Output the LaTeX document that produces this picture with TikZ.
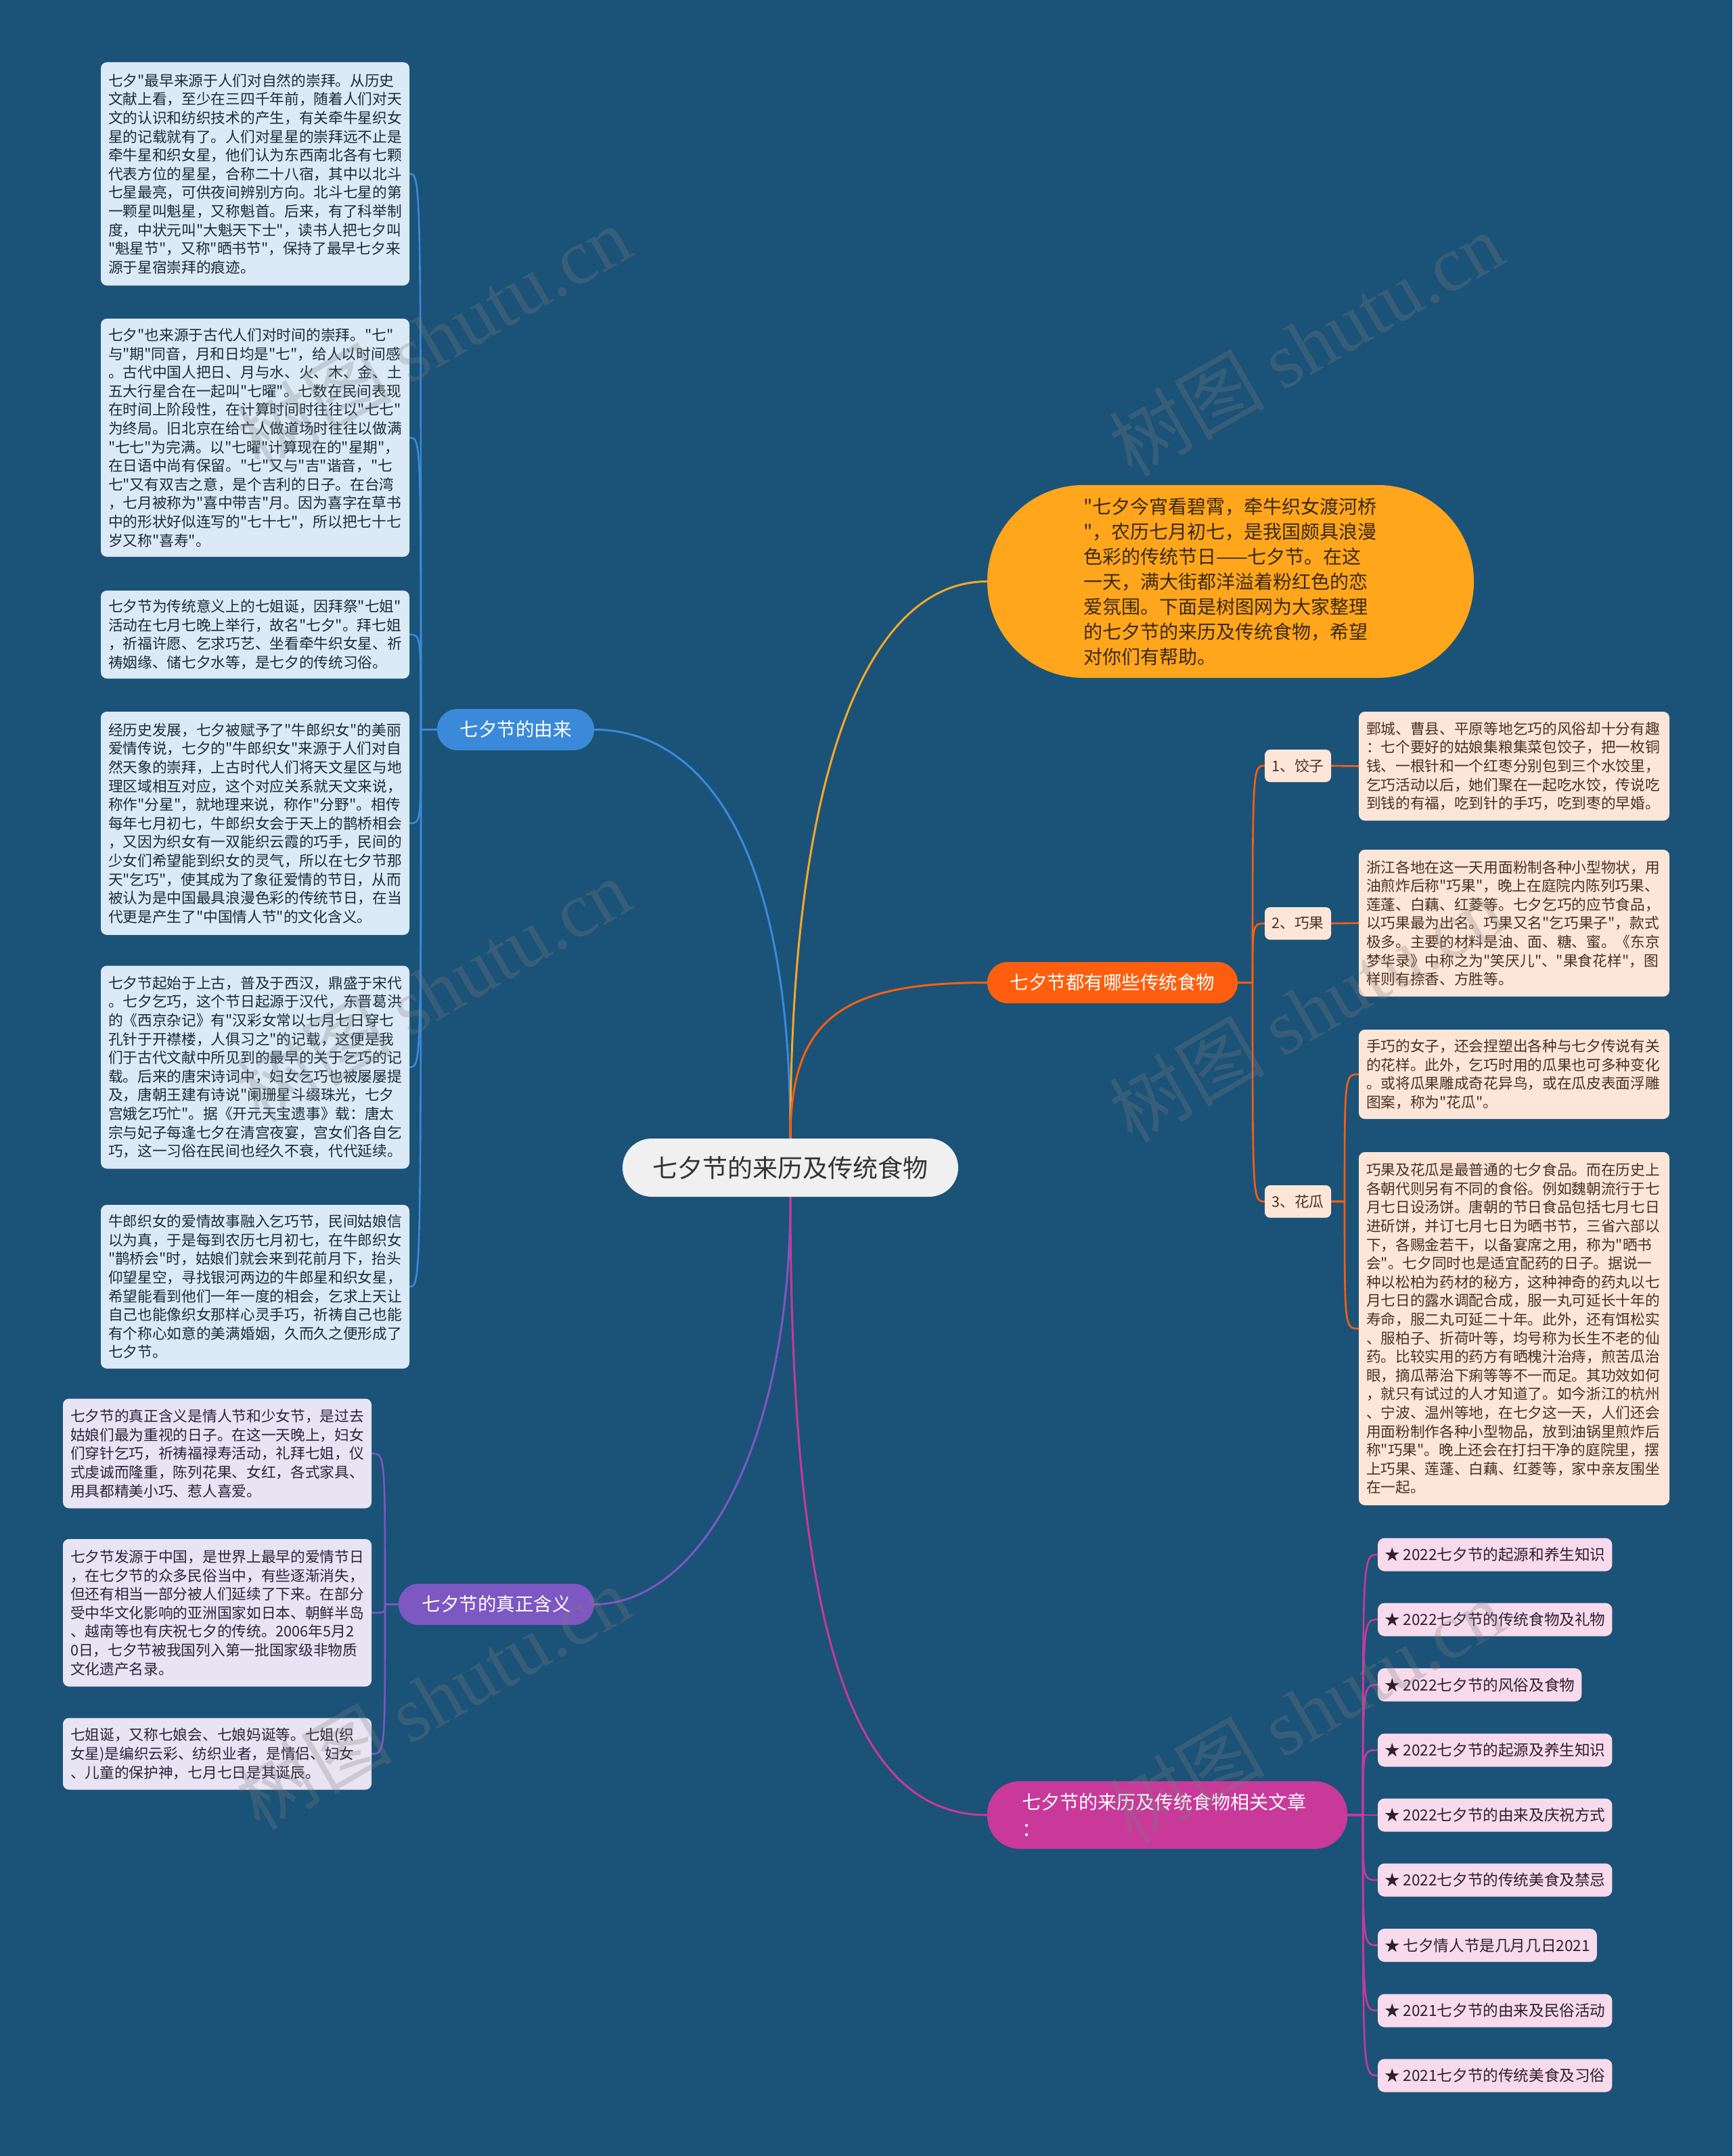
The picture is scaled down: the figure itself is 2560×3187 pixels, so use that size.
\documentclass[tikz,border=0pt]{standalone}
\usepackage{fontspec}
\setmainfont{Noto Sans CJK SC}
\newfontfamily\cjkfont{Noto Sans CJK SC}
\newfontfamily\wmserif{Liberation Serif}
\usetikzlibrary{calc,backgrounds}
\definecolor{bg}{HTML}{1B5277}
\definecolor{rootfill}{HTML}{F0F0F0}
\definecolor{roottext}{HTML}{333333}
\definecolor{cblue}{HTML}{3B8AD9}
\definecolor{cyellow}{HTML}{F5A82A}
\definecolor{bubble}{HTML}{FFA61C}
\definecolor{corange}{HTML}{FF5E0E}
\definecolor{cpurple}{HTML}{7D57C2}
\definecolor{cmagenta}{HTML}{C8399A}
\definecolor{lboxfill}{HTML}{DCEAF7}
\definecolor{pboxfill}{HTML}{E8E4F4}
\definecolor{rboxfill}{HTML}{FDE6D8}
\definecolor{artfill}{HTML}{F7DAEC}
\definecolor{ltext}{HTML}{1E2A36}
\definecolor{ptext}{HTML}{2A2438}
\definecolor{rtext}{HTML}{4B3020}
\definecolor{atext}{HTML}{2E1F2B}
\definecolor{btext}{HTML}{3B2A10}
\begin{document}
\begin{tikzpicture}[x=1pt,y=-1pt,
  every node/.style={inner sep=0pt, outer sep=0pt},
  detail/.style={anchor=west, rounded corners=9pt, align=left, inner xsep=11pt, inner ysep=0pt, font=\cjkfont\fontsize{21.7}{27.6}\selectfont},
  lbox/.style={detail, fill=lboxfill, text=ltext, text width=434pt},
  pbox/.style={detail, fill=pboxfill, text=ptext, text width=434pt},
  rbox/.style={detail, fill=rboxfill, text=rtext, text width=437pt},
  numbox/.style={fill=rboxfill, text=rtext, rounded corners=8pt, minimum width=98pt, minimum height=48pt, font=\cjkfont\fontsize{21.7}{26}\selectfont},
  artbox/.style={anchor=west, fill=artfill, text=atext, rounded corners=10pt, inner xsep=10pt, minimum height=49pt, font=\cjkfont\fontsize{22.6}{28}\selectfont},
  title/.style={rounded corners=30pt, minimum height=61pt, text=white, font=\cjkfont\fontsize{27.5}{33}\selectfont},
  mainline/.style={line width=3pt},
  subline/.style={line width=2.6pt},
  wm/.style={rotate=30, text=gray, text opacity=0.28, font=\cjkfont\fontsize{115}{120}\selectfont}
]
\useasboundingbox (0,0) rectangle (2560,3187);

% ---------- central and main nodes ----------
\node[fill=rootfill, text=roottext, rounded corners=43pt, minimum width=496pt, minimum height=86pt, font=\cjkfont\fontsize{37}{44}\selectfont] (root) at (1168,1726) {七夕节的来历及传统食物};

\node[fill=bubble, text=btext, rounded corners=142pt, minimum width=719pt, minimum height=285pt, align=left, text width=435pt, font=\cjkfont\fontsize{28}{37}\selectfont] (intro) at (1818.5,859.5) {"七夕今宵看碧霄，牵牛织女渡河桥\\"，农历七月初七，是我国颇具浪漫\\色彩的传统节日——七夕节。在这\\一天，满大街都洋溢着粉红色的恋\\爱氛围。下面是树图网为大家整理\\的七夕节的来历及传统食物，希望\\对你们有帮助。};

\node[title, fill=cblue, minimum width=232pt] (yl) at (762,1078.5) {七夕节的由来};
\node[title, fill=corange, minimum width=370pt] (food) at (1644,1452.5) {七夕节都有哪些传统食物};
\node[title, fill=cpurple, minimum width=289pt] (pur) at (733.5,2371.5) {七夕节的真正含义};
\node[fill=cmagenta, text=white, rounded corners=48pt, minimum width=532pt, minimum height=100pt, align=left, text width=430pt, font=\cjkfont\fontsize{28}{40}\selectfont] (mag) at (1725,2683) {七夕节的来历及传统食物相关文章\\：};

% ---------- left detail boxes ----------
\node[lbox, minimum height=330pt] (L1) at (149,257) {七夕"最早来源于人们对自然的崇拜。从历史\\文献上看，至少在三四千年前，随着人们对天\\文的认识和纺织技术的产生，有关牵牛星织女\\星的记载就有了。人们对星星的崇拜远不止是\\牵牛星和织女星，他们认为东西南北各有七颗\\代表方位的星星，合称二十八宿，其中以北斗\\七星最亮，可供夜间辨别方向。北斗七星的第\\一颗星叫魁星，又称魁首。后来，有了科举制\\度，中状元叫"大魁天下士"，读书人把七夕叫\\"魁星节"，又称"晒书节"，保持了最早七夕来\\源于星宿崇拜的痕迹。};
\node[lbox, minimum height=352pt] (L2) at (149,647) {七夕"也来源于古代人们对时间的崇拜。"七"\\与"期"同音，月和日均是"七"，给人以时间感\\。古代中国人把日、月与水、火、木、金、土\\五大行星合在一起叫"七曜"。七数在民间表现\\在时间上阶段性，在计算时间时往往以"七七"\\为终局。旧北京在给亡人做道场时往往以做满\\"七七"为完满。以"七曜"计算现在的"星期"，\\在日语中尚有保留。"七"又与"吉"谐音，"七\\七"又有双吉之意，是个吉利的日子。在台湾\\，七月被称为"喜中带吉"月。因为喜字在草书\\中的形状好似连写的"七十七"，所以把七十七\\岁又称"喜寿"。};
\node[lbox, minimum height=130pt] (L3) at (149,938) {七夕节为传统意义上的七姐诞，因拜祭"七姐"\\活动在七月七晚上举行，故名"七夕"。拜七姐\\，祈福许愿、乞求巧艺、坐看牵牛织女星、祈\\祷姻缘、储七夕水等，是七夕的传统习俗。};
\node[lbox, minimum height=330pt] (L4) at (149,1217) {经历史发展，七夕被赋予了"牛郎织女"的美丽\\爱情传说，七夕的"牛郎织女"来源于人们对自\\然天象的崇拜，上古时代人们将天文星区与地\\理区域相互对应，这个对应关系就天文来说，\\称作"分星"，就地理来说，称作"分野"。相传\\每年七月初七，牛郎织女会于天上的鹊桥相会\\，又因为织女有一双能织云霞的巧手，民间的\\少女们希望能到织女的灵气，所以在七夕节那\\天"乞巧"，使其成为了象征爱情的节日，从而\\被认为是中国最具浪漫色彩的传统节日，在当\\代更是产生了"中国情人节"的文化含义。};
\node[lbox, minimum height=300pt] (L5) at (149,1577.5) {七夕节起始于上古，普及于西汉，鼎盛于宋代\\。七夕乞巧，这个节日起源于汉代，东晋葛洪\\的《西京杂记》有"汉彩女常以七月七日穿七\\孔针于开襟楼，人俱习之"的记载，这便是我\\们于古代文献中所见到的最早的关于乞巧的记\\载。后来的唐宋诗词中，妇女乞巧也被屡屡提\\及，唐朝王建有诗说"阑珊星斗缀珠光，七夕\\宫娥乞巧忙"。据《开元天宝遗事》载：唐太\\宗与妃子每逢七夕在清宫夜宴，宫女们各自乞\\巧，这一习俗在民间也经久不衰，代代延续。};
\node[lbox, minimum height=242pt] (L6) at (149,1902) {牛郎织女的爱情故事融入乞巧节，民间姑娘信\\以为真，于是每到农历七月初七，在牛郎织女\\"鹊桥会"时，姑娘们就会来到花前月下，抬头\\仰望星空，寻找银河两边的牛郎星和织女星，\\希望能看到他们一年一度的相会，乞求上天让\\自己也能像织女那样心灵手巧，祈祷自己也能\\有个称心如意的美满婚姻，久而久之便形成了\\七夕节。};

% ---------- bottom-left boxes ----------
\node[pbox, minimum height=162pt] (B1) at (93,2148.5) {七夕节的真正含义是情人节和少女节，是过去\\姑娘们最为重视的日子。在这一天晚上，妇女\\们穿针乞巧，祈祷福禄寿活动，礼拜七姐，仪\\式虔诚而隆重，陈列花果、女红，各式家具、\\用具都精美小巧、惹人喜爱。};
\node[pbox, minimum height=218pt] (B2) at (93,2384) {七夕节发源于中国，是世界上最早的爱情节日\\，在七夕节的众多民俗当中，有些逐渐消失，\\但还有相当一部分被人们延续了下来。在部分\\受中华文化影响的亚洲国家如日本、朝鲜半岛\\、越南等也有庆祝七夕的传统。2006年5月2\\0日，七夕节被我国列入第一批国家级非物质\\文化遗产名录。};
\node[pbox, minimum height=106pt] (B3) at (93,2592.5) {七姐诞，又称七娘会、七娘妈诞等。七姐(织\\女星)是编织云彩、纺织业者，是情侣、妇女\\、儿童的保护神，七月七日是其诞辰。};

% ---------- food branch ----------
\node[numbox] (N1) at (1918,1132) {1、饺子};
\node[numbox] (N2) at (1918,1365) {2、巧果};
\node[numbox] (N3) at (1918,1776) {3、花瓜};

\node[rbox, minimum height=161pt] (R1) at (2008,1132.5) {鄄城、曹县、平原等地乞巧的风俗却十分有趣\\：七个要好的姑娘集粮集菜包饺子，把一枚铜\\钱、一根针和一个红枣分别包到三个水饺里，\\乞巧活动以后，她们聚在一起吃水饺，传说吃\\到钱的有福，吃到针的手巧，吃到枣的早婚。};
\node[rbox, minimum height=217pt] (R2) at (2008,1364.5) {浙江各地在这一天用面粉制各种小型物状，用\\油煎炸后称"巧果"，晚上在庭院内陈列巧果、\\莲蓬、白藕、红菱等。七夕乞巧的应节食品，\\以巧果最为出名。巧果又名"乞巧果子"，款式\\极多。主要的材料是油、面、糖、蜜。《东京\\梦华录》中称之为"笑厌儿"、"果食花样"，图\\样则有捺香、方胜等。};
\node[rbox, minimum height=132pt] (R3) at (2008,1588) {手巧的女子，还会捏塑出各种与七夕传说有关\\的花样。此外，乞巧时用的瓜果也可多种变化\\。或将瓜果雕成奇花异鸟，或在瓜皮表面浮雕\\图案，称为"花瓜"。};
\node[rbox, minimum height=522pt] (R4) at (2008,1964) {巧果及花瓜是最普通的七夕食品。而在历史上\\各朝代则另有不同的食俗。例如魏朝流行于七\\月七日设汤饼。唐朝的节日食品包括七月七日\\进斫饼，并订七月七日为晒书节，三省六部以\\下，各赐金若干，以备宴席之用，称为"晒书\\会"。七夕同时也是适宜配药的日子。据说一\\种以松柏为药材的秘方，这种神奇的药丸以七\\月七日的露水调配合成，服一丸可延长十年的\\寿命，服二丸可延二十年。此外，还有饵松实\\、服柏子、折荷叶等，均号称为长生不老的仙\\药。比较实用的药方有晒槐汁治痔，煎苦瓜治\\眼，摘瓜蒂治下痢等等不一而足。其功效如何\\，就只有试过的人才知道了。如今浙江的杭州\\、宁波、温州等地，在七夕这一天，人们还会\\用面粉制作各种小型物品，放到油锅里煎炸后\\称"巧果"。晚上还会在打扫干净的庭院里，摆\\上巧果、莲蓬、白藕、红菱等，家中亲友围坐\\在一起。};

% ---------- articles ----------
\node[artbox] (A1) at (2036,2298) {★ 2022七夕节的起源和养生知识};
\node[artbox] (A2) at (2036,2394) {★ 2022七夕节的传统食物及礼物};
\node[artbox] (A3) at (2036,2490.5) {★ 2022七夕节的风俗及食物};
\node[artbox] (A4) at (2036,2587) {★ 2022七夕节的起源及养生知识};
\node[artbox] (A5) at (2036,2683) {★ 2022七夕节的由来及庆祝方式};
\node[artbox] (A6) at (2036,2779) {★ 2022七夕节的传统美食及禁忌};
\node[artbox] (A7) at (2036,2875.5) {★ 七夕情人节是几月几日2021};
\node[artbox] (A8) at (2036,2972) {★ 2021七夕节的由来及民俗活动};
\node[artbox] (A9) at (2036,3068) {★ 2021七夕节的传统美食及习俗};

% ---------- watermarks ----------
\node[wm] (wm1) at (640,498) {树图 {\wmserif shutu.cn}};
\node[wm] (wm2) at (1930,508) {树图 {\wmserif shutu.cn}};
\node[wm] (wm3) at (640,1463) {树图 {\wmserif shutu.cn}};
\node[wm] (wm4) at (1930,1493) {树图 {\wmserif shutu.cn}};
\node[wm] (wm5) at (640,2509) {树图 {\wmserif shutu.cn}};
\node[wm] (wm6) at (1930,2529) {树图 {\wmserif shutu.cn}};

% ---------- connectors (behind nodes) ----------
\begin{scope}[on background layer]
\fill[bg] (0,0) rectangle (2560,3187);
% main branches
\draw[cblue, mainline] (root.north) .. controls ($(root.north)!0.88!(root.north |- yl.east)$) and ($(yl.east)!0.35!(root.north |- yl.east)$) .. (yl.east);
\draw[cyellow, mainline] (root.north) .. controls ($(root.north)!0.65!(root.north |- intro.west)$) and ($(intro.west)!0.62!(root.north |- intro.west)$) .. (intro.west);
\draw[corange, mainline] (root.north) .. controls ($(root.north)!0.79!(root.north |- food.west)$) and ($(food.west)!0.72!(root.north |- food.west)$) .. (food.west);
\draw[cpurple, mainline] (root.south) .. controls ($(root.south)!0.63!(root.south |- pur.east)$) and ($(pur.east)!0.52!(root.south |- pur.east)$) .. (pur.east);
\draw[cmagenta, mainline] (root.south) .. controls ($(root.south)!0.71!(root.south |- mag.west)$) and ($(mag.west)!0.68!(root.south |- mag.west)$) .. (mag.west);
% origin branch children
\coordinate (ylS) at ($(yl.west)+(-24,0)$);
\foreach \c in {L1,L2,L3,L4,L5,L6}
  \draw[cblue, subline] (yl.west) -- (ylS) .. controls (ylS |- \c.east) and (ylS |- \c.east) .. (\c.east);
% meaning branch children
\coordinate (puS) at ($(pur.west)+(-20,0)$);
\foreach \c in {B1,B2,B3}
  \draw[cpurple, subline] (pur.west) -- (puS) .. controls (puS |- \c.east) and (puS |- \c.east) .. (\c.east);
% food branch children
\coordinate (fdS) at ($(food.east)+(22,0)$);
\foreach \c in {N1,N2,N3}
  \draw[corange, subline] (food.east) -- (fdS) .. controls (fdS |- \c.west) and (fdS |- \c.west) .. (\c.west);
\draw[corange, subline] (N1.east) -- (R1.west);
\draw[corange, subline] (N2.east) -- (R2.west);
\coordinate (n3S) at ($(N3.east)+(20,0)$);
\foreach \c in {R3,R4}
  \draw[corange, subline] (N3.east) -- (n3S) .. controls (n3S |- \c.west) and (n3S |- \c.west) .. (\c.west);
% article children
\coordinate (mgS) at ($(mag.east)+(23,0)$);
\foreach \c in {A1,A2,A3,A4,A5,A6,A7,A8,A9}
  \draw[cmagenta, subline] (mag.east) -- (mgS) .. controls (mgS |- \c.west) and (mgS |- \c.west) .. (\c.west);
\end{scope}
\end{tikzpicture}
\end{document}
